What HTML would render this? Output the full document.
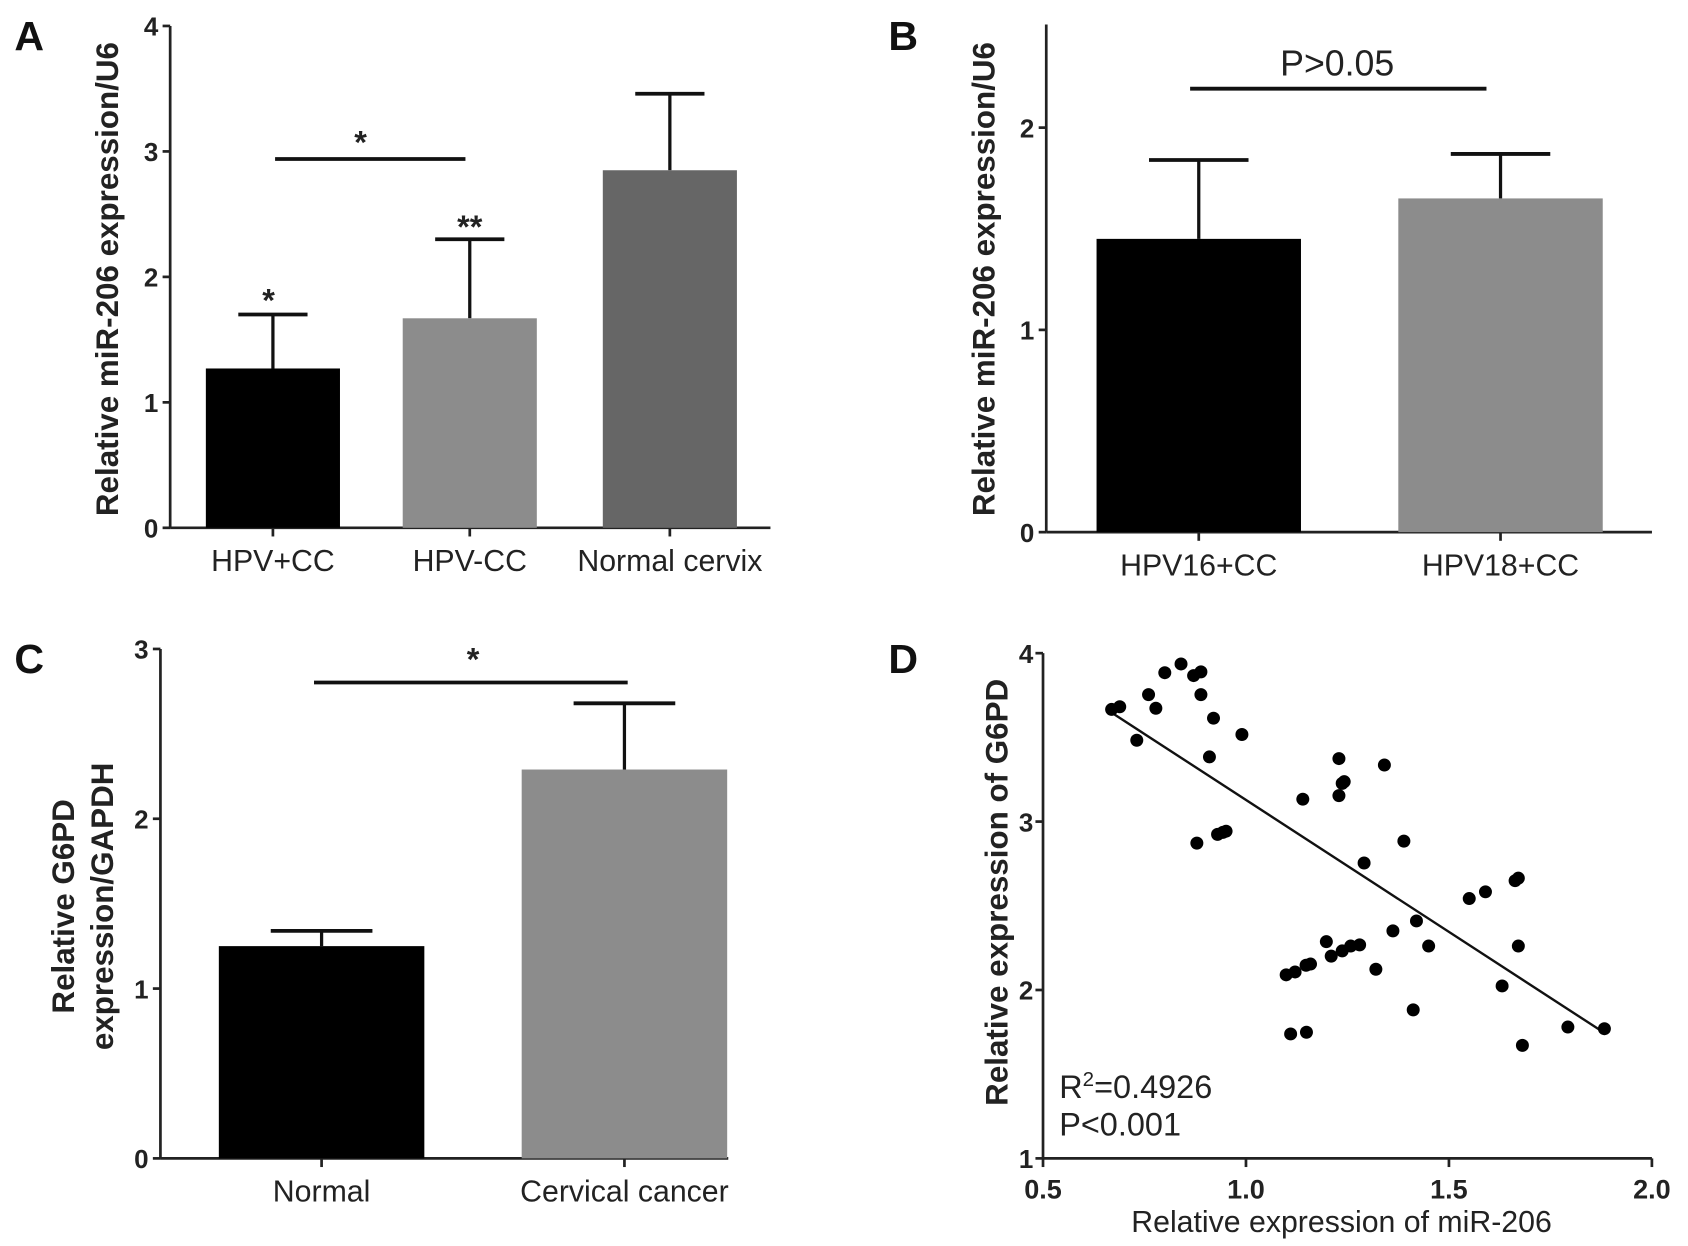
<!DOCTYPE html>
<html><head><meta charset="utf-8">
<style>
html,body{margin:0;padding:0;background:#fff;}
svg{display:block;}
text{font-family:"Liberation Sans",Arial,sans-serif;}
</style></head>
<body>
<svg id="fig" width="1688" height="1246" viewBox="0 0 1560 1152" xmlns="http://www.w3.org/2000/svg">
<rect width="1560" height="1152" fill="#fff"/>
</svg>
<script>
// ---- Panel A data ----
const aCategories = ["HPV+CC","HPV-CC","Normal cervix"];
const aValues = [1.27, 1.67, 2.85];
const aErrors = [0.43, 0.63, 0.61];
const aTicks = [0,1,2,3,4];
// ---- Panel B data ----
const bCategories = ["HPV16+CC","HPV18+CC"];
const bValues = [1.45, 1.65];
const bErrors = [0.39, 0.22];
const bTicks = [0,1,2];
// ---- Panel C data ----
const cCategories = ["Normal","Cervical cancer"];
const cValues = [1.25, 2.29];
const cErrors = [0.09, 0.39];
const cTicks = [0,1,2,3];
// ---- Panel D data ----
const dX = [0.669,0.689,0.731,0.760,0.778,0.800,0.840,0.871,0.889,0.889,0.920,0.990,0.910,0.879,0.930,0.943,0.951,1.140,1.229,1.229,1.237,1.242,1.341,1.389,1.291,1.420,1.362,1.450,1.198,1.210,1.237,1.258,1.280,1.320,1.099,1.121,1.148,1.159,1.412,1.110,1.149,1.671,1.663,1.550,1.590,1.671,1.631,1.681,1.793,1.883];
const dY = [3.666,3.682,3.483,3.754,3.673,3.884,3.936,3.867,3.889,3.754,3.614,3.517,3.384,2.872,2.924,2.936,2.943,3.133,3.374,3.154,3.227,3.237,3.336,2.884,2.754,2.410,2.351,2.261,2.287,2.201,2.232,2.261,2.268,2.123,2.090,2.107,2.147,2.154,1.882,1.739,1.749,2.664,2.649,2.543,2.583,2.261,2.024,1.671,1.780,1.770];
const dLineX = [0.669, 1.883];
const dLineY = [3.647, 1.745];
const dXTicks = ["0.5","1.0","1.5","2.0"];
const dYTicks = [1,2,3,4];

const svg = document.getElementById('fig');
const NS = 'http://www.w3.org/2000/svg';
function mk(tag, attrs, parent){const e=document.createElementNS(NS,tag);for(const k in attrs)e.setAttribute(k,attrs[k]);(parent||svg).appendChild(e);return e;}
function txt(s, attrs, parent){const e=mk('text',attrs,parent);e.textContent=s;return e;}

function barPanel(cfg){
  const g = mk('g',{});
  
  
  const y = v => cfg.y0 - (v - 0) * cfg.unit;
  const ya = mk('line',{x1:cfg.ax,y1:y(cfg.ymax),x2:cfg.ax,y2:cfg.y0,stroke:'#222','stroke-width':2.5},g);
  
  
  const xa = mk('line',{x1:cfg.ax,y1:cfg.y0,x2:cfg.xend,y2:cfg.y0,stroke:'#222','stroke-width':2.5},g);
  
  
  cfg.ticks.forEach(t=>{
    mk('line',{x1:cfg.ax-7,y1:y(t),x2:cfg.ax,y2:y(t),stroke:'#222','stroke-width':2.5},g);
    const tl = txt(String(t),{x:cfg.ax-11,y:y(t)+9,'font-size':24,'font-weight':'bold','text-anchor':'end',fill:'#222'},g);
    
    
  });
  cfg.cats.forEach((c,i)=>{
    const cx = cfg.centers[i];
    mk('line',{x1:cx,y1:cfg.y0,x2:cx,y2:cfg.y0+8,stroke:'#222','stroke-width':2.5},g);
    const top = y(cfg.vals[i]+cfg.errs[i]);
    const el = mk('line',{x1:cx,y1:top,x2:cx,y2:y(cfg.vals[i]),stroke:'#111','stroke-width':3},g);
    
    
    mk('line',{x1:cx-cfg.cap,y1:top,x2:cx+cfg.cap,y2:top,stroke:'#111','stroke-width':3.5},g);
    const b = mk('rect',{x:cx-cfg.bw/2,y:y(cfg.vals[i]),width:cfg.bw,height:cfg.y0-y(cfg.vals[i]),fill:cfg.colors[i]},g);
    
    
    const xl = txt(c,{x:cx,y:cfg.y0+40,'font-size':28,'text-anchor':'middle',fill:'#222'},g);
    
    
  });
  return {g,y};
}

const A = barPanel({name:'panel-a',ax:157,y0:488,unit:116,ymax:4,xend:712,ticks:aTicks,cats:aCategories,vals:aValues,errs:aErrors,centers:[252,434,619],bw:124,cap:32,colors:['#000','#8c8c8c','#666']});
const B = barPanel({name:'panel-b',ax:967,y0:492,unit:187,ymax:2.51,xend:1527,ticks:bTicks,cats:bCategories,vals:bValues,errs:bErrors,centers:[1108,1387],bw:189,cap:46,colors:['#000','#8c8c8c']});
const C = barPanel({name:'panel-c',ax:148,y0:1071,unit:157,ymax:3,xend:673,ticks:cTicks,cats:cCategories,vals:cValues,errs:cErrors,centers:[297,577],bw:190,cap:47,colors:['#000','#8c8c8c']});

(function(){
  function sig(x1,x2,yy,label,tx,ty,fs,w,name){
    const l = mk('line',{x1:x1,y1:yy,x2:x2,y2:yy,stroke:'#111','stroke-width':3.5});
    
    
    const t = txt(label,{x:tx,y:ty,'font-size':fs,'font-weight':w,'text-anchor':'middle',fill:'#222'});
    
    
  }
  sig(254,430,147,'*',333,142,30,'bold','significance-a');
  let s1 = txt('*',{x:248,y:288,'font-size':30,'font-weight':'bold','text-anchor':'middle',fill:'#222'});
  
  
  let s2 = txt('**',{x:434,y:220,'font-size':30,'font-weight':'bold','text-anchor':'middle',fill:'#222'});
  
  
  sig(1100,1374,82,'P>0.05',1236,70,33,'normal','significance-b');
  sig(290,580,631,'*',437,620,30,'bold','significance-c');

  function ytitle(lines,cx,cy,name){
    const t = mk('text',{transform:'translate('+cx+','+cy+') rotate(-90)','font-size':29,'font-weight':'bold','text-anchor':'middle',fill:'#222'});
    
    
    lines.forEach((ln,i)=>{const ts=mk('tspan',{x:0,dy:i===0?0:36},t);ts.textContent=ln;});
  }
  ytitle(['Relative miR-206 expression/U6'],109,258,'y-axis-title-a');
  ytitle(['Relative miR-206 expression/U6'],919,258,'y-axis-title-b');
  ytitle(['Relative G6PD','expression/GAPDH'],68,838,'y-axis-title-c');
  ytitle(['Relative expression of G6PD'],931,825,'y-axis-title-d');

  [['A',30,44],['B',838,44],['C',30,620],['D',838,620]].forEach(p=>{
    const t = txt(p[0],{x:p[1]-17,y:p[2]+2,'font-size':38,'font-weight':'bold',fill:'#111'});
    
    
  });

  const g = mk('g',{});
  
  
  const ax=964, x05=964, xunit=375.3, y1=1071, yunit=155.7;
  const sx = v => x05 + (v-0.5)*xunit;
  const sy = v => y1 - (v-1)*yunit;
  const ya = mk('line',{x1:ax,y1:sy(4),x2:ax,y2:y1,stroke:'#222','stroke-width':2.5},g);
  
  
  const xa = mk('line',{x1:ax,y1:y1,x2:sx(2.0),y2:y1,stroke:'#222','stroke-width':2.5},g);
  
  
  dYTicks.forEach(t=>{
    mk('line',{x1:ax-7,y1:sy(t),x2:ax,y2:sy(t),stroke:'#222','stroke-width':2.5},g);
    const tl = txt(String(t),{x:ax-9,y:sy(t)+9,'font-size':24,'font-weight':'bold','text-anchor':'end',fill:'#222'},g);
    
    
  });
  dXTicks.forEach(t=>{
    const xv = sx(parseFloat(t));
    mk('line',{x1:xv,y1:y1,x2:xv,y2:y1+8,stroke:'#222','stroke-width':2.5},g);
    const tl = txt(t,{x:xv,y:y1+37,'font-size':25,'font-weight':'bold','text-anchor':'middle',fill:'#222'},g);
    
    
  });
  const xt = txt('Relative expression of miR-206',{x:1240,y:1139,'font-size':28,'text-anchor':'middle',fill:'#222'},g);
  
  
  const rl = mk('line',{x1:sx(dLineX[0]),y1:sy(dLineY[0]),x2:sx(dLineX[1]),y2:sy(dLineY[1]),stroke:'#111','stroke-width':2.2},g);
  
  
  dX.forEach((xv,i)=>{
    const c = mk('circle',{cx:sx(xv),cy:sy(dY[i]),r:6,fill:'#000'},g);
    
    
  });
  const r2 = mk('text',{x:979,y:1015,'font-size':30,fill:'#222'},g);
  
  
  r2.innerHTML = 'R<tspan dy="-11" font-size="19">2</tspan><tspan dy="11">=0.4926</tspan>';
  const pv = txt('P<0.001',{x:979,y:1050,'font-size':30,fill:'#222'},g);
  
  
})();
</script>
</body></html>
